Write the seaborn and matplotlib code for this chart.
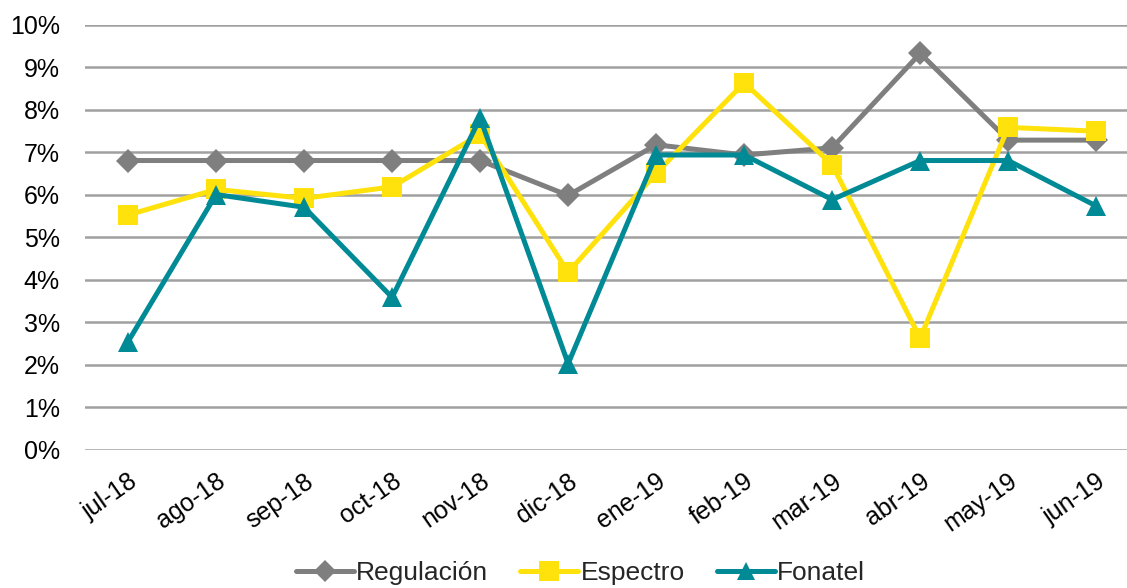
#!/usr/bin/env python3

# Monthly percentages for three income lines, jul-18 to jun-19.
import matplotlib

matplotlib.use("Agg")
import matplotlib.pyplot as plt
import pandas
import seaborn as sns
from matplotlib.ticker import PercentFormatter

months = [
    "jul-18", "ago-18", "sep-18", "oct-18", "nov-18", "dic-18",
    "ene-19", "feb-19", "mar-19", "abr-19", "may-19", "jun-19",
]
regulacion = [6.80, 6.80, 6.80, 6.80, 6.80, 5.98, 7.17, 6.93, 7.10, 9.32, 7.28, 7.28]
espectro = [5.52, 6.12, 5.91, 6.18, 7.42, 4.17, 6.50, 8.63, 6.70, 2.62, 7.58, 7.49]
fonatel = [2.54, 6.00, 5.70, 3.58, 7.80, 2.02, 6.93, 6.93, 5.88, 6.80, 6.80, 5.73]

series = ["Regulación", "Espectro", "Fonatel"]
palette = {"Regulación": "#7F7F7F", "Espectro": "#FFE20B", "Fonatel": "#008A96"}
markers = {"Regulación": "D", "Espectro": "s", "Fonatel": "^"}
msizes = {"Regulación": 12, "Espectro": 15, "Fonatel": 14}


def build_frame():
    rows = []
    for name, values in zip(series, [regulacion, espectro, fonatel]):
        for idx, val in enumerate(values):
            rows.append({"serie": name, "pos": idx, "value": val / 100.0})
    return pandas.DataFrame(rows)


def main():
    sns.set_style("white")
    plt.rcParams["font.family"] = ["Liberation Sans", "DejaVu Sans"]

    df = build_frame()

    fig = plt.figure(figsize=(11.27, 5.88), dpi=100)
    ax = fig.add_axes([0.0754, 0.2355, 0.9246, 0.7228])

    ax.yaxis.grid(True, color="#A0A0A0", linewidth=1.8)
    ax.set_axisbelow(True)

    # one call per series so each marker can keep its own size
    for s in series:
        sns.lineplot(
            data=df[df.serie == s],
            x="pos",
            y="value",
            color=palette[s],
            marker=markers[s],
            linewidth=3.6,
            markersize=msizes[s],
            markeredgewidth=0,
            ax=ax,
            legend=False,
        )

    ax.set_ylim(0, 0.10)
    ax.set_yticks([i / 100 for i in range(11)])
    ax.yaxis.set_major_formatter(PercentFormatter(1.0, decimals=0))
    ax.set_xlim(-0.49, 11.35)
    ax.set_xticks(range(len(months)))
    ax.set_xticklabels(months, rotation=35, ha="right", rotation_mode="anchor")
    ax.tick_params(axis="both", labelsize=18, length=0, colors="black")
    ax.tick_params(axis="x", pad=14)
    ax.tick_params(axis="y", pad=18)
    ax.set_xlabel("")
    ax.set_ylabel("")
    for side in ["top", "right", "left", "bottom"]:
        ax.spines[side].set_visible(False)

    handles = [
        plt.Line2D([], [], color=palette[s], marker=markers[s], linewidth=3.6,
                   markersize=msizes[s] - 1, markeredgewidth=0)
        for s in series
    ]
    fig.legend(
        handles,
        series,
        loc="lower center",
        bbox_to_anchor=(0.515, -0.035),
        ncol=3,
        frameon=False,
        fontsize=19,
        handlelength=2.2,
        handletextpad=0.1,
        columnspacing=1.2,
    )

    fig.savefig("out.png", dpi=100)
    plt.close(fig)


if __name__ == "__main__":
    main()
